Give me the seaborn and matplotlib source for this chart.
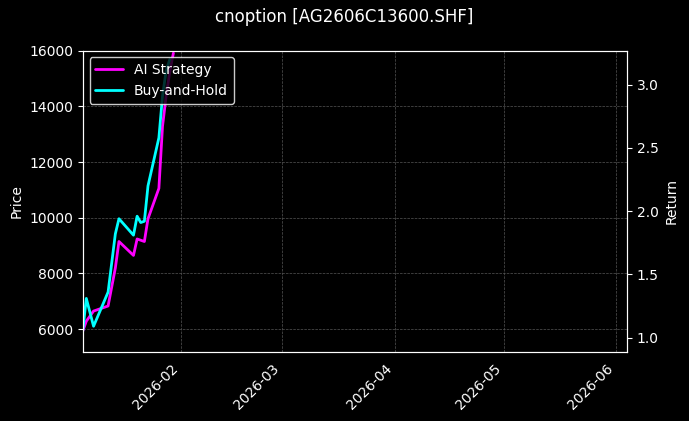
import pandas as pd
import matplotlib
matplotlib.use("Agg")
import matplotlib.pyplot as plt
import matplotlib.dates as mdates
import seaborn as sns

sns.set_style("darkgrid")
plt.style.use("dark_background")

dates_ai = ["2026-01-05", "2026-01-06", "2026-01-08", "2026-01-12", "2026-01-14", "2026-01-15",
            "2026-01-19", "2026-01-20", "2026-01-22", "2026-01-23", "2026-01-26", "2026-01-27",
            "2026-01-28", "2026-01-29", "2026-01-30"]
ret_ai = [1.05, 1.13, 1.21, 1.25, 1.55, 1.76, 1.65, 1.78, 1.76, 1.94, 2.18, 2.67, 2.91, 3.10, 3.25]
dates_bh = ["2026-01-05", "2026-01-06", "2026-01-08", "2026-01-12", "2026-01-14", "2026-01-15",
            "2026-01-19", "2026-01-20", "2026-01-21", "2026-01-22", "2026-01-23", "2026-01-26",
            "2026-01-27", "2026-01-28", "2026-01-29"]
ret_bh = [1.05, 1.31, 1.09, 1.36, 1.82, 1.94, 1.81, 1.96, 1.91, 1.92, 2.20, 2.58, 2.91, 3.11, 3.20]

ai = pd.DataFrame({"date": pd.to_datetime(dates_ai), "ret": ret_ai})
bh = pd.DataFrame({"date": pd.to_datetime(dates_bh), "ret": ret_bh})

fig, ax = plt.subplots(figsize=(6.89, 4.21), dpi=100)
fig.patch.set_facecolor("black")
ax.set_facecolor("black")
ax2 = ax.twinx()

sns.lineplot(data=ai, x="date", y="ret", ax=ax2, color="#ff00ff", linewidth=2, label="AI Strategy")
sns.lineplot(data=bh, x="date", y="ret", ax=ax2, color="#00ffff", linewidth=2, label="Buy-and-Hold")

ax.set_ylim(5200, 16000)
ax2.set_ylim(0.89, 3.27)
ax.set_xlim(pd.Timestamp("2026-01-05"), pd.Timestamp("2026-06-04"))
ax.set_ylabel("Price")
ax2.set_ylabel("Return")
ax2.set_xlabel("")
ax.set_xlabel("")
ax.xaxis.set_major_locator(mdates.MonthLocator())
ax.xaxis.set_major_formatter(mdates.DateFormatter("%Y-%m"))
plt.setp(ax.get_xticklabels(), rotation=45, ha="right")
ax.grid(True, linestyle="--", linewidth=0.5, color="#555555")
ax2.grid(False)
ax2.legend(loc="upper left", facecolor="black", edgecolor="white")
for a in (ax, ax2):
    for s in a.spines.values():
        s.set_color("white")
fig.suptitle("cnoption [AG2606C13600.SHF]")
fig.subplots_adjust(left=0.12, right=0.91, top=0.88, bottom=0.165)
fig.savefig("out.png", dpi=100, facecolor="black")
